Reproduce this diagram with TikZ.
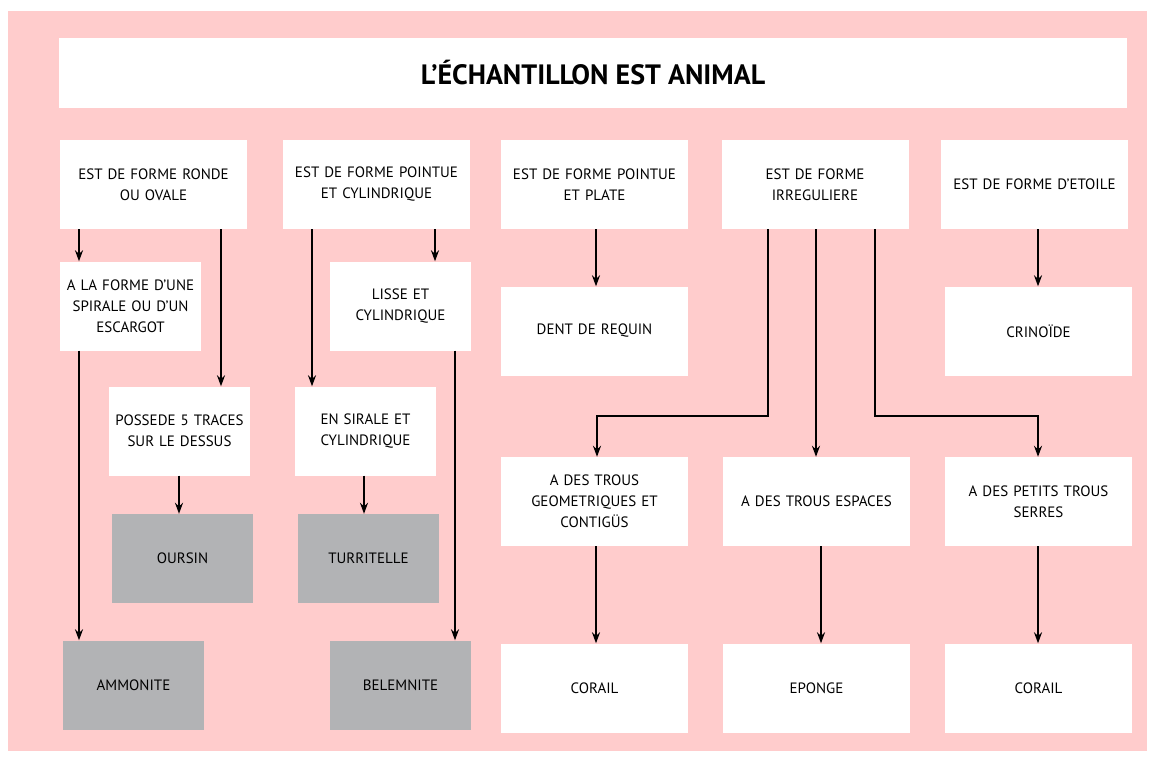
\documentclass[tikz,border=0pt]{standalone}
\usepackage{fontspec}
\setmainfont{PT Sans}
\usetikzlibrary{arrows.meta}

\definecolor{fondrose}{RGB}{255,204,204}
\definecolor{grisfossile}{RGB}{178,179,181}

\tikzset{
    boite/.style={fill=white, minimum width=187pt, minimum height=89pt, text width=181pt,
        align=center, inner sep=0pt, font=\fontsize{15}{21}\selectfont},
    petite/.style={boite, minimum width=141pt, text width=139pt},
    fossile/.style={petite, fill=grisfossile},
    fleche/.style={line width=2pt, -{Stealth[length=11pt,width=8pt]}}
}

\begin{document}
\begin{tikzpicture}[x=1pt, y=-1pt]
    \useasboundingbox (0,0) rectangle (1155,760);
    \fill[fondrose] (8,11) rectangle (1147,751);

    % --- titre ---
    \node[fill=white, minimum width=1068pt, minimum height=70pt, font=\fontsize{28}{32}\selectfont\bfseries]
        (titre) at (593,73) {L’ÉCHANTILLON EST ANIMAL};

    % --- formes ---
    \node[boite] (ronde) at (153.5,184.5) {EST DE FORME RONDE\\OU OVALE};
    \node[boite] (cylindre) at (376.5,184.5) {EST DE FORME POINTUE\\ET CYLINDRIQUE};
    \node[boite] (plate) at (594.5,184.5) {EST DE FORME POINTUE\\ET PLATE};
    \node[boite] (irreg) at (815,184.5) {EST DE FORME\\IRREGULIERE};
    \node[boite] (etoile) at (1034.5,184.5) {EST DE FORME D’ETOILE};

    % --- colonne gauche ---
    \node[petite] (spirale) at (130.5,306) {A LA FORME D’UNE\\SPIRALE OU D’UN\\ESCARGOT};
    \node[petite] (traces) at (179.5,431) {POSSEDE 5 TRACES\\SUR LE DESSUS};
    \node[fossile] (oursin) at (182.5,558.5) {OURSIN};
    \node[fossile] (ammonite) at (133.5,685) {AMMONITE};

    \node[petite] (lisse) at (400.5,306) {LISSE ET\\CYLINDRIQUE};
    \node[petite] (sirale) at (365.5,431) {EN SIRALE ET\\CYLINDRIQUE};
    \node[fossile] (turritelle) at (368.5,558.5) {TURRITELLE};
    \node[fossile] (belemnite) at (400.5,685) {BELEMNITE};

    % --- colonne droite ---
    \node[boite] (requin) at (594.5,331) {DENT DE REQUIN};
    \node[boite] (crinoide) at (1038.5,331) {CRINOÏDE};

    \node[boite] (geom) at (594.5,501.5) {A DES TROUS\\GEOMETRIQUES ET\\CONTIGÜS};
    \node[boite] (espaces) at (816.5,501.5) {A DES TROUS ESPACES};
    \node[boite] (serres) at (1038.5,501.5) {A DES PETITS TROUS\\SERRES};

    \node[boite] (corail1) at (594.5,688) {CORAIL};
    \node[boite] (eponge) at (816.5,688) {EPONGE};
    \node[boite] (corail2) at (1038.5,688) {CORAIL};

    % --- fleches ---
    \draw[fleche] (ronde.south -| 79,0) -- (spirale.north -| 79,0);
    \draw[fleche] (ronde.south -| 221,0) -- (traces.north -| 221,0);
    \draw[fleche] (spirale.south -| 79,0) -- (ammonite.north -| 79,0);
    \draw[fleche] (traces.south -| 179,0) -- (oursin.north -| 179,0);

    \draw[fleche] (cylindre.south -| 312,0) -- (sirale.north -| 312,0);
    \draw[fleche] (cylindre.south -| 435,0) -- (lisse.north -| 435,0);
    \draw[fleche] (sirale.south -| 364,0) -- (turritelle.north -| 364,0);
    \draw[fleche] (lisse.south -| 455,0) -- (belemnite.north -| 455,0);

    \draw[fleche] (plate.south -| 596,0) -- (requin.north -| 596,0);
    \draw[fleche] (etoile.south -| 1038,0) -- (crinoide.north -| 1038,0);

    \draw[fleche] (irreg.south -| 768,0) -- (768,416) -| (597,0 |- geom.north);
    \draw[fleche] (irreg.south -| 816,0) -- (espaces.north -| 816,0);
    \draw[fleche] (irreg.south -| 875,0) -- (875,416) -| (1038,0 |- serres.north);

    \draw[fleche] (geom.south -| 596,0) -- (corail1.north -| 596,0);
    \draw[fleche] (espaces.south -| 821,0) -- (eponge.north -| 821,0);
    \draw[fleche] (serres.south -| 1038,0) -- (corail2.north -| 1038,0);
\end{tikzpicture}
\end{document}
